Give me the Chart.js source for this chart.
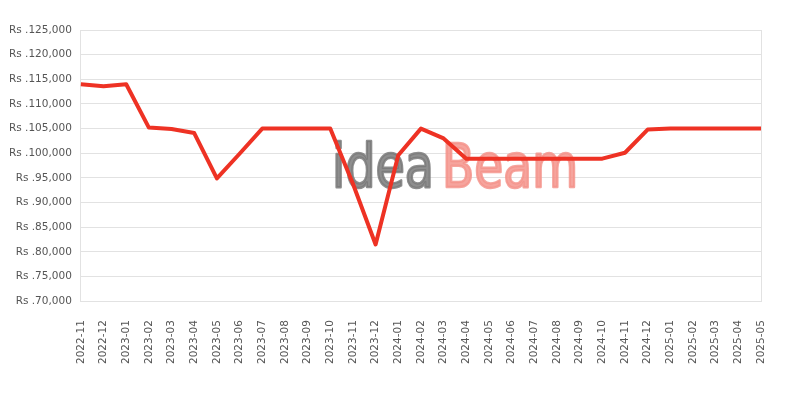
<!DOCTYPE html>
<html>
<head>
<meta charset="utf-8">
<script src="https://cdn.jsdelivr.net/npm/chart.js@4/dist/chart.umd.min.js"></script>
<style>
  html, body { margin: 0; padding: 0; background: #fff; }
  #wrap { width: 800px; height: 400px; }
</style>
</head>
<body>
<div id="wrap"><canvas id="priceChart"></canvas></div>
<script>
// months on the x axis
const months = [
    "2022-11", "2022-12",
    "2023-01", "2023-02", "2023-03", "2023-04", "2023-05", "2023-06",
    "2023-07", "2023-08", "2023-09", "2023-10", "2023-11", "2023-12",
    "2024-01", "2024-02", "2024-03", "2024-04", "2024-05", "2024-06",
    "2024-07", "2024-08", "2024-09", "2024-10", "2024-11", "2024-12",
    "2025-01", "2025-02", "2025-03", "2025-04", "2025-05"
];

// price in Rs
const prices = [
    114000, 113600,
    114000, 105200, 104900, 104100, 94900, 99900,
    105000, 105000, 105000, 105000, 93800, 81500,
    99600, 105000, 103000, 98900, 98900, 98900,
    98900, 98900, 98900, 98900, 100100, 104800,
    105000, 105000, 105000, 105000, 105000
];

// y axis range
const yMin = 70000;
const yMax = 125000;
const yStep = 5000;

const lineColor = '#ee3224';
const gridColor = '#e2e2e2';
const textColor = '#555555';

// watermark drawn behind the line
const watermark = {
    id: 'watermark',
    beforeDatasetsDraw(chart) {
        const ctx = chart.ctx;
        ctx.save();
        ctx.globalAlpha = 0.85;
        ctx.textBaseline = 'alphabetic';
        ctx.textAlign = 'left';
        ctx.lineWidth = 2.5;
        ctx.lineJoin = 'round';
        ctx.font = '60px "DejaVu Sans Condensed", "DejaVu Sans"';
        ctx.fillStyle = ctx.strokeStyle = '#7a7a7a';
        ctx.fillText('idea', 332, 187, 102);
        ctx.strokeText('idea', 332, 187, 102);
        ctx.fillStyle = ctx.strokeStyle = '#f5948c';
        ctx.fillText('Beam', 442, 187, 136);
        ctx.strokeText('Beam', 442, 187, 136);
        ctx.restore();
    }
};

// right edge of the plot box
const boxEdge = {
    id: 'boxEdge',
    beforeDatasetsDraw(chart) {
        const a = chart.chartArea;
        const ctx = chart.ctx;
        ctx.save();
        ctx.strokeStyle = gridColor;
        ctx.lineWidth = 1;
        ctx.beginPath();
        ctx.moveTo(Math.round(a.right) + 0.5, a.top);
        ctx.lineTo(Math.round(a.right) + 0.5, a.bottom);
        ctx.stroke();
        ctx.restore();
    }
};

Chart.defaults.font.family = '"DejaVu Sans", sans-serif';
Chart.defaults.font.size = 10.5;
Chart.defaults.color = textColor;

new Chart(document.getElementById('priceChart').getContext('2d'), {
    type: 'line',
    data: {
        labels: months,
        datasets: [{
            label: 'Price',
            data: prices,
            borderColor: lineColor,
            backgroundColor: lineColor,
            borderWidth: 4,
            borderJoinStyle: 'round',
            pointRadius: 0,
            pointHoverRadius: 0,
            tension: 0,
            fill: false
        }]
    },
    options: {
        responsive: true,
        maintainAspectRatio: false,
        animation: false,
        layout: {
            padding: { top: 30, right: 39, bottom: 25, left: 0 }
        },
        plugins: {
            legend: { display: false },
            tooltip: { enabled: false }
        },
        scales: {
            x: {
                offset: false,
                grid: { display: false },
                border: { display: true, color: gridColor },
                ticks: {
                    autoSkip: false,
                    maxRotation: 90,
                    minRotation: 90,
                    padding: 11
                }
            },
            y: {
                min: yMin,
                max: yMax,
                grid: { color: gridColor, drawTicks: false },
                border: { display: true, color: gridColor },
                ticks: {
                    stepSize: yStep,
                    padding: 9,
                    callback: (v) => 'Rs .' + v.toLocaleString('en-US')
                }
            }
        }
    },
    plugins: [watermark, boxEdge]
});
</script>
</body>
</html>
